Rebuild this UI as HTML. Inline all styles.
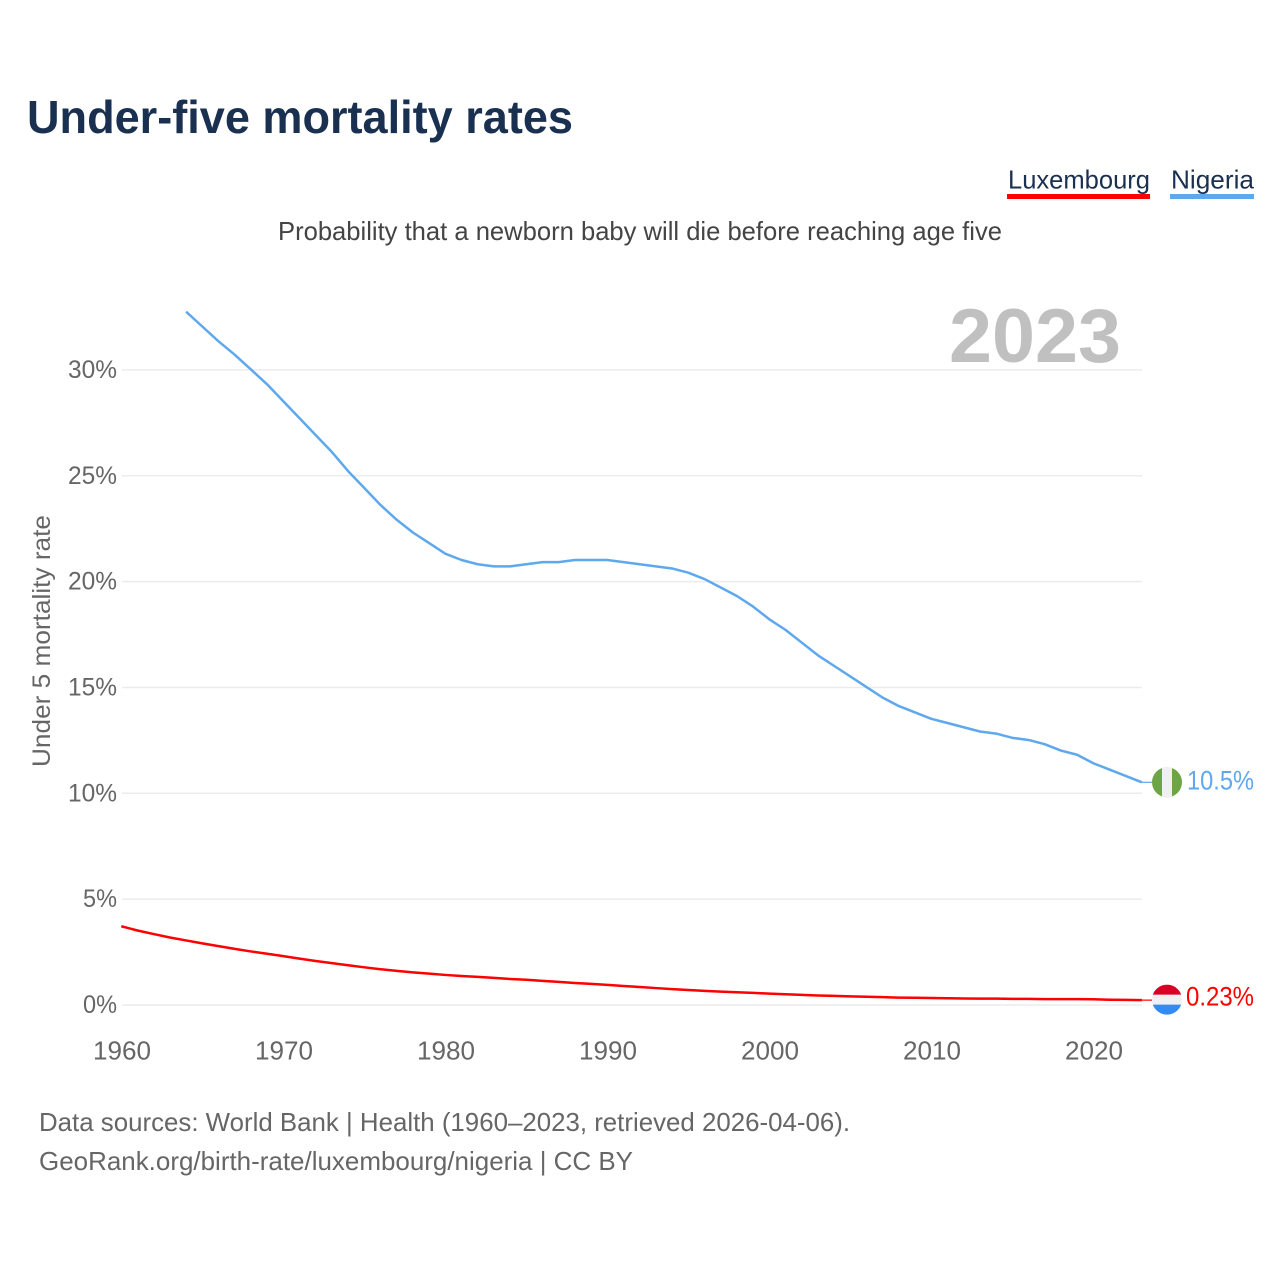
<!DOCTYPE html>
<html lang="en">
<head>
<meta charset="utf-8">
<title>Under-five mortality rates</title>
<style>
html,body{margin:0;padding:0;background:#fff;}
svg{display:block;font-family:"Liberation Sans",Arial,sans-serif;}
</style>
</head>
<body>
<svg id="chart" xmlns="http://www.w3.org/2000/svg" width="1280" height="1280" viewBox="0 0 1280 1280">
  <rect width="1280" height="1280" fill="#fff"/>
  <defs>
    <clipPath id="flag-clip-ng"><circle id="clip-ng" r="15"/></clipPath>
    <clipPath id="flag-clip-lu"><circle id="clip-lu" r="15"/></clipPath>
  </defs>
  <text x="27" y="133" font-size="46" font-weight="700" fill="#1a3050" textLength="546" lengthAdjust="spacingAndGlyphs">Under-five mortality rates</text>
  <g>
    <g>
      <text x="1008" y="188.5" font-size="26" fill="#1a3050" textLength="142" lengthAdjust="spacingAndGlyphs">Luxembourg</text>
      <rect x="1007" y="194" width="143" height="5" fill="#ff0000"/>
    </g>
    <g>
      <text x="1171" y="188.5" font-size="26" fill="#1a3050" textLength="83" lengthAdjust="spacingAndGlyphs">Nigeria</text>
      <rect x="1170" y="194" width="84" height="5" fill="#5fa8ee"/>
    </g>
  </g>
  <text x="278" y="240" font-size="26" fill="#444" textLength="724" lengthAdjust="spacingAndGlyphs">Probability that a newborn baby will die before reaching age five</text>
  <text x="949" y="362" font-size="76" font-weight="700" fill="#c0c0c0" textLength="172" lengthAdjust="spacingAndGlyphs">2023</text>
  <text transform="translate(50,767) rotate(-90)" x="0" y="0" font-size="25" fill="#666" textLength="252" lengthAdjust="spacingAndGlyphs">Under 5 mortality rate</text>
  <g id="grid"></g>
  <g id="y-ticks"></g>
  <g id="x-ticks"></g>
  <g id="series"></g>
  <g id="flag-ng" clip-path="url(#flag-clip-ng)"></g>
  <g id="flag-lu" clip-path="url(#flag-clip-lu)"></g>
  <text x="39" y="1131" font-size="26" fill="#666" textLength="811" lengthAdjust="spacingAndGlyphs">Data sources: World Bank | Health (1960–2023, retrieved 2026-04-06).</text>
  <text x="39" y="1170" font-size="26" fill="#666" textLength="594" lengthAdjust="spacingAndGlyphs">GeoRank.org/birth-rate/luxembourg/nigeria | CC BY</text>
</svg>
<script>
const yTickValues = [0, 5, 10, 15, 20, 25, 30];
const xTickYears = [1960, 1970, 1980, 1990, 2000, 2010, 2020];
const luxembourgStartYear = 1960;
const luxembourgValues = [3.72,3.52,3.35,3.19,3.05,2.91,2.78,2.65,2.53,2.42,2.31,2.19,2.08,1.98,1.88,1.78,1.69,1.61,1.54,1.48,1.42,1.37,1.33,1.28,1.23,1.19,1.14,1.09,1.04,1.0,0.95,0.90,0.85,0.80,0.75,0.71,0.67,0.63,0.60,0.57,0.54,0.51,0.48,0.45,0.43,0.41,0.39,0.37,0.35,0.34,0.33,0.32,0.31,0.30,0.30,0.29,0.29,0.28,0.28,0.28,0.27,0.25,0.24,0.23];
const nigeriaStartYear = 1964;
const nigeriaValues = [32.75,32.05,31.35,30.72,30.02,29.32,28.52,27.72,26.92,26.12,25.22,24.42,23.62,22.92,22.32,21.82,21.32,21.02,20.82,20.72,20.72,20.82,20.92,20.92,21.02,21.02,21.02,20.92,20.82,20.72,20.62,20.42,20.12,19.72,19.32,18.82,18.22,17.72,17.12,16.52,16.02,15.52,15.02,14.52,14.12,13.82,13.52,13.32,13.12,12.92,12.82,12.62,12.52,12.32,12.02,11.82,11.42,11.12,10.82,10.52];
const nigeriaLabel = "10.5%";
const luxembourgLabel = "0.23%";

const NS = "http://www.w3.org/2000/svg";
const xScale = function (year) { return 121.3 + (year - 1960) * 16.2; };
const yScale = function (value) { return 1005 - value * 21.17; };
function make(tag, attrs, parent, text) {
  const el = document.createElementNS(NS, tag);
  for (const k in attrs) { el.setAttribute(k, attrs[k]); }
  if (text !== undefined) { el.textContent = text; }
  parent.appendChild(el);
  return el;
}
const grid = document.getElementById("grid");
const yTicks = document.getElementById("y-ticks");
const xTicks = document.getElementById("x-ticks");
const series = document.getElementById("series");

yTickValues.forEach(function (v) {
  const line = make("line", {x1: 122, x2: 1142, y1: yScale(v), y2: yScale(v), stroke: "#ececec", "stroke-width": 1.5}, grid);
  
  
  const label = v + "%";
  const t = make("text", {x: 117, y: yScale(v) + 8, "text-anchor": "end", "font-size": 25, fill: "#666", textLength: v < 10 ? 34 : 49, lengthAdjust: "spacingAndGlyphs"}, yTicks, label);
  
  
});
xTickYears.forEach(function (yr) {
  const t = make("text", {x: xScale(yr) + 0.7, y: 1059.5, "text-anchor": "middle", "font-size": 26, fill: "#666", textLength: 58, lengthAdjust: "spacingAndGlyphs"}, xTicks, String(yr));
  
  
});
function pathFor(values, startYear) {
  return values.map(function (v, i) {
    return (i ? "L" : "M") + xScale(startYear + i).toFixed(2) + " " + yScale(v).toFixed(2);
  }).join(" ");
}
const luxLine = make("path", {d: pathFor(luxembourgValues, luxembourgStartYear), fill: "none", stroke: "#ff0000", "stroke-width": 2.5, "stroke-linejoin": "round"}, series);


const ngLine = make("path", {d: pathFor(nigeriaValues, nigeriaStartYear), fill: "none", stroke: "#5fa8ee", "stroke-width": 2.5, "stroke-linejoin": "round"}, series);



const ngEndY = yScale(nigeriaValues[nigeriaValues.length - 1]);
const luEndY = yScale(luxembourgValues[luxembourgValues.length - 1]);
const lastX = xScale(2023);
const ngLeader = make("line", {x1: lastX, x2: 1152, y1: ngEndY, y2: ngEndY, stroke: "#5fa8ee", "stroke-width": 1.2}, series);


const luLeader = make("line", {x1: lastX, x2: 1152, y1: luEndY, y2: luEndY, stroke: "#ff0000", "stroke-width": 1.2}, series);



const cx = 1167;
document.getElementById("clip-ng").setAttribute("cx", cx);
document.getElementById("clip-ng").setAttribute("cy", ngEndY);
document.getElementById("clip-lu").setAttribute("cx", cx);
document.getElementById("clip-lu").setAttribute("cy", luEndY - 0.5);
const fNg = document.getElementById("flag-ng");
const fLu = document.getElementById("flag-lu");
make("rect", {x: cx - 15, y: ngEndY - 15, width: 30, height: 30, fill: "#6da544"}, fNg);
make("rect", {x: cx - 5, y: ngEndY - 15, width: 10, height: 30, fill: "#f0f0f0"}, fNg);
make("rect", {x: cx - 15, y: luEndY - 15.5, width: 30, height: 31, fill: "#f0f0f0"}, fLu);
make("rect", {x: cx - 15, y: luEndY - 15.5, width: 30, height: 10, fill: "#d80027"}, fLu);
make("rect", {x: cx - 15, y: luEndY + 4.5, width: 30, height: 11, fill: "#338af3"}, fLu);

const ngText = make("text", {x: 1187, y: ngEndY + 7, "font-size": 27, fill: "#5fa8ee", textLength: 67, lengthAdjust: "spacingAndGlyphs"}, series, nigeriaLabel);


const luText = make("text", {x: 1186, y: luEndY + 5.5, "font-size": 27, fill: "#ff0000", textLength: 68, lengthAdjust: "spacingAndGlyphs"}, series, luxembourgLabel);


</script>
</body>
</html>
